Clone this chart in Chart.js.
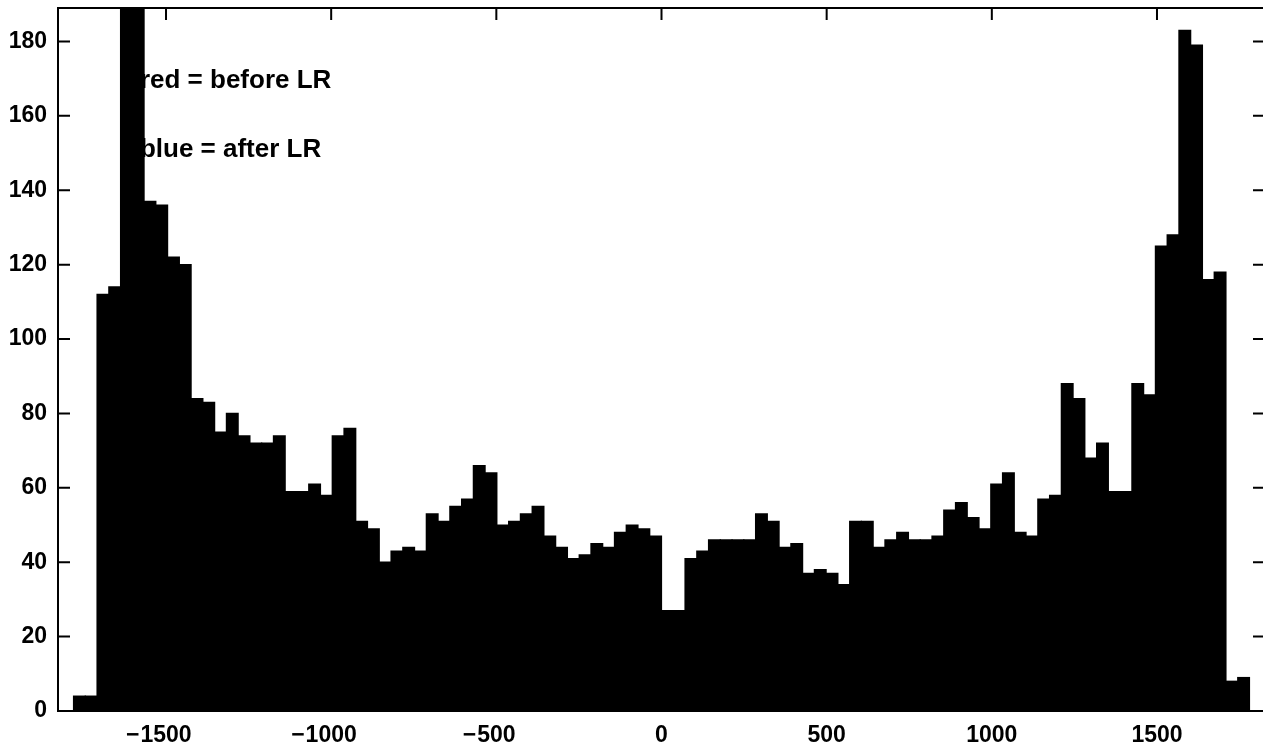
<!DOCTYPE html>
<html>
<head>
<meta charset="utf-8">
<script src="https://cdn.jsdelivr.net/npm/chart.js@4.4.0/dist/chart.umd.min.js"></script>
<style>
html, body { margin: 0; padding: 0; background: #fff; overflow: hidden; }
canvas { display: block; }
</style>
</head>
<body>
<canvas id="hist" width="1268" height="751"></canvas>
<script>
// histogram counts, 100 equal bins, left to right
var counts = [4, 4, 112, 114, 205, 200, 137, 136, 122, 120,
              84, 83, 75, 80, 74, 72, 72, 74, 59, 59,
              61, 58, 74, 76, 51, 49, 40, 43, 44, 43,
              53, 51, 55, 57, 66, 64, 50, 51, 53, 55,
              47, 44, 41, 42, 45, 44, 48, 50, 49, 47,
              27, 27, 41, 43, 46, 46, 46, 46, 53, 51,
              44, 45, 37, 38, 37, 34, 51, 51, 44, 46,
              48, 46, 46, 47, 54, 56, 52, 49, 61, 64,
              48, 47, 57, 58, 88, 84, 68, 72, 59, 59,
              88, 85, 125, 128, 183, 179, 116, 118, 8, 9];
var binLo = -1780;
var binWidth = 35.6;
var xRange = [-1827, 1827];
var yRange = [0, 189];
var xTicks = [-1500, -1000, -500, 0, 500, 1000, 1500];
var yTicks = [0, 20, 40, 60, 80, 100, 120, 140, 160, 180];
var notes = ["red = before LR", "blue = after LR"];
var noteX = -1579;
var noteY = [167.4, 148.9];

var FONT = '"Liberation Sans", Arial, Helvetica, sans-serif';

var points = counts.map(function(c, i) {
    return { x: binLo + (i + 0.5) * binWidth, y: c };
});

// text goes under the bars, like in the original figure
var notesPlugin = {
    id: 'notes',
    beforeDatasetsDraw: function(chart) {
        var ctx = chart.ctx, sx = chart.scales.x, sy = chart.scales.y;
        ctx.save();
        ctx.fillStyle = '#000';
        ctx.font = 'bold 26px ' + FONT;
        ctx.textAlign = 'left';
        ctx.textBaseline = 'alphabetic';
        notes.forEach(function(t, i) {
            ctx.fillText(t, sx.getPixelForValue(noteX), sy.getPixelForValue(noteY[i]));
        });
        ctx.restore();
    }
};

// box, inward ticks and x labels (matlab style)
var framePlugin = {
    id: 'frame',
    afterDraw: function(chart) {
        var ctx = chart.ctx, a = chart.chartArea;
        var sx = chart.scales.x, sy = chart.scales.y;
        var tl = 12;
        ctx.save();
        ctx.strokeStyle = '#000';
        ctx.lineWidth = 2;
        ctx.strokeRect(a.left, a.top, a.right - a.left, a.bottom - a.top);
        ctx.beginPath();
        xTicks.forEach(function(v) {
            var px = sx.getPixelForValue(v);
            ctx.moveTo(px, a.top); ctx.lineTo(px, a.top + tl);
            ctx.moveTo(px, a.bottom); ctx.lineTo(px, a.bottom - tl);
        });
        yTicks.forEach(function(v) {
            var py = sy.getPixelForValue(v);
            ctx.moveTo(a.left, py); ctx.lineTo(a.left + tl, py);
            ctx.moveTo(a.right, py); ctx.lineTo(a.right - tl, py);
        });
        ctx.stroke();

        ctx.fillStyle = '#000';
        ctx.font = 'bold 23px ' + FONT;
        ctx.textBaseline = 'alphabetic';
        xTicks.forEach(function(v) {
            var px = sx.getPixelForValue(v);
            var digits = String(Math.abs(v));
            var w = ctx.measureText(digits).width;
            ctx.textAlign = 'center';
            ctx.fillText(digits, px, a.bottom + 31);
            if (v < 0) {
                ctx.textAlign = 'right';
                ctx.fillText('\u2212', px - w / 2 - 1, a.bottom + 31);
            }
        });
        ctx.restore();
    }
};

new Chart(document.getElementById('hist'), {
    type: 'bar',
    data: {
        datasets: [{
            data: points,
            backgroundColor: '#000',
            borderWidth: 0,
            inflateAmount: 0.6,
            barPercentage: 1,
            categoryPercentage: 1
        }]
    },
    options: {
        responsive: false,
        animation: false,
        events: [],
        layout: { padding: { left: 0, right: 3, top: 8, bottom: 0 } },
        plugins: {
            legend: { display: false },
            tooltip: { enabled: false },
            title: { display: false }
        },
        scales: {
            x: {
                type: 'linear',
                offset: false,
                min: xRange[0],
                max: xRange[1],
                grid: { display: false, drawTicks: false, offset: false },
                border: { display: false },
                ticks: { display: false },
                afterBuildTicks: function(s) { s.ticks = xTicks.map(function(v) { return { value: v }; }); },
                afterFit: function(s) { s.height = 40; s.paddingLeft = 0; s.paddingRight = 0; }
            },
            y: {
                min: yRange[0],
                max: yRange[1],
                grid: { display: false, drawTicks: false },
                border: { display: false },
                ticks: {
                    color: '#000',
                    padding: 11,
                    font: { family: FONT, size: 23, weight: 'bold' }
                },
                afterBuildTicks: function(s) { s.ticks = yTicks.map(function(v) { return { value: v }; }); },
                afterFit: function(s) { s.width = 58; s.paddingTop = 0; s.paddingBottom = 0; }
            }
        }
    },
    plugins: [notesPlugin, framePlugin]
});
</script>
</body>
</html>
